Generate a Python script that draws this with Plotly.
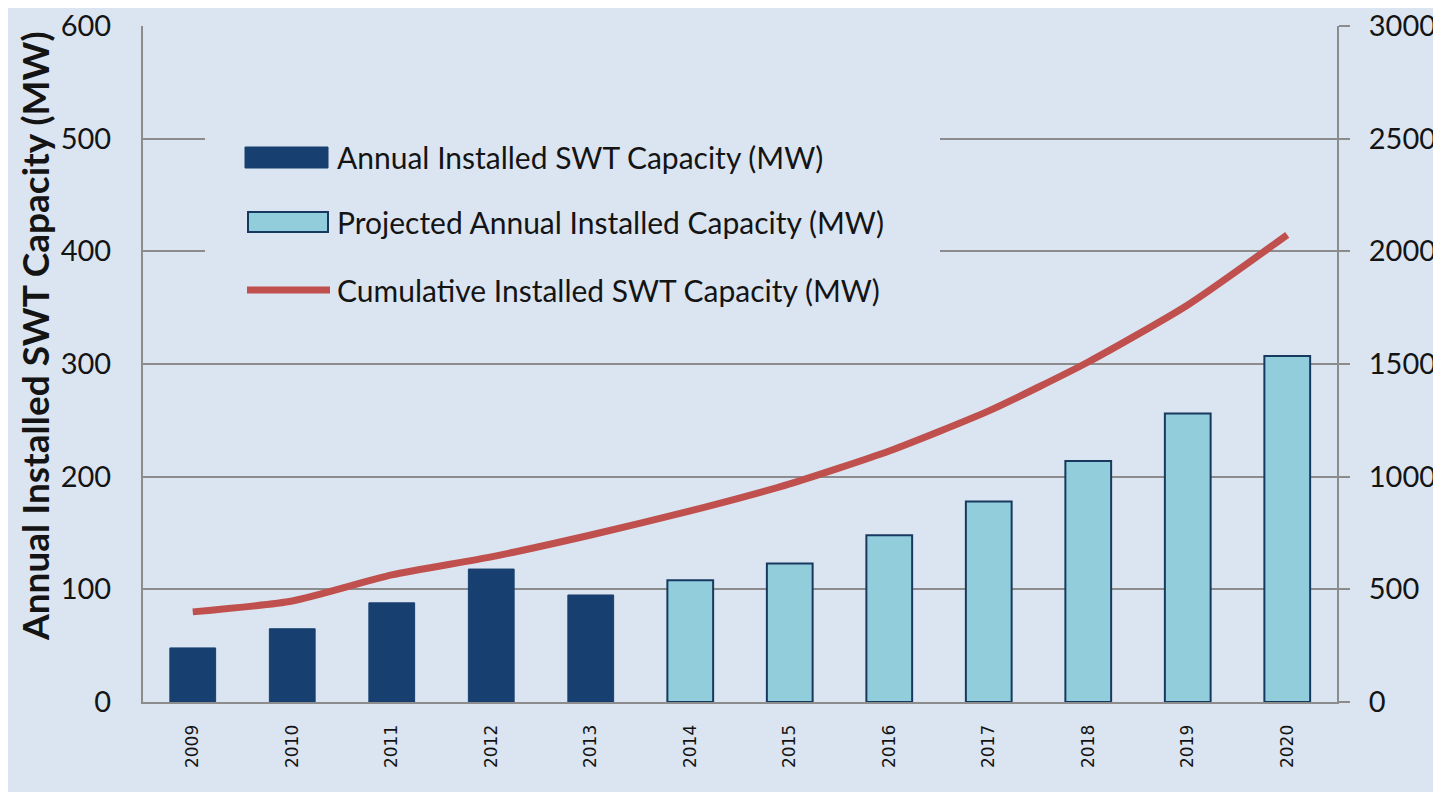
import plotly.graph_objects as go

# ---- data ----
years = ["2009", "2010", "2011", "2012", "2013", "2014", "2015", "2016", "2017", "2018", "2019", "2020"]
annual_years = years[:5]
annual_values = [48, 65, 88, 118, 95]
projected_years = years[5:]
projected_values = [108, 123, 148, 178, 214, 256, 307]
cumulative_values = [400, 448, 564, 644, 741, 848, 968, 1114, 1292, 1509, 1762, 2073]

legend_labels = [
    "Annual Installed SWT Capacity (MW)",
    "Projected Annual Installed Capacity (MW)",
    "Cumulative Installed SWT Capacity (MW)",
]
y_title = "Annual Installed SWT Capacity (MW)"

# ---- style ----
BG = "#dbe5f1"
DARK = "#173f6f"
LIGHT = "#92cddc"
EDGE = "#18395f"
RED = "#c0504d"
GRID = "#8c8c8c"
TXT = "#141414"

# page body has an 8px margin; work in reference pixel coords and shift
OFF = 8
W, H = 1441 - OFF, 792 - OFF
ML, MT = 143 - OFF, 26 - OFF
MR = W - (1337 - OFF)
MB = H - (702 - OFF)
PW, PH = W - ML - MR, H - MT - MB


def px(xp):
    return (xp - OFF - ML) / PW


def py(yp):
    return (H - MB - (yp - OFF)) / PH


fig = go.Figure()
fig.add_trace(go.Bar(x=annual_years, y=annual_values, name=legend_labels[0],
                     marker=dict(color=DARK, line=dict(color=DARK, width=1)),
                     width=0.46, showlegend=False))
fig.add_trace(go.Bar(x=projected_years, y=projected_values, name=legend_labels[1],
                     marker=dict(color=LIGHT, line=dict(color=EDGE, width=2)),
                     width=0.46, showlegend=False))
fig.add_trace(go.Scatter(x=years, y=cumulative_values, name=legend_labels[2],
                         mode="lines", line=dict(color=RED, width=7, shape="spline", smoothing=0.6),
                         yaxis="y2", showlegend=False))

# legend drawn as shapes + text (background panel hides gridlines like the original)
shapes = [
    dict(type="rect", xref="paper", yref="paper", x0=px(205), x1=px(940), y0=py(118), y1=py(318),
         fillcolor=BG, line=dict(width=0), layer="above"),
    dict(type="rect", xref="paper", yref="paper", x0=px(245), x1=px(328), y0=py(147), y1=py(168),
         fillcolor=DARK, line=dict(color=DARK, width=1), layer="above"),
    dict(type="rect", xref="paper", yref="paper", x0=px(248), x1=px(328), y0=py(212), y1=py(232),
         fillcolor=LIGHT, line=dict(color=EDGE, width=2), layer="above"),
    dict(type="line", xref="paper", yref="paper", x0=px(247), x1=px(330), y0=py(290), y1=py(290),
         line=dict(color=RED, width=7), layer="above"),
]
annotations = []
for lab, yc in zip(legend_labels, [157, 222, 290]):
    annotations.append(dict(text=lab, xref="paper", yref="paper", x=px(335), y=py(yc),
                            xanchor="left", yanchor="middle", showarrow=False,
                            font=dict(family="Lato", size=30, color=TXT)))
# y-axis title (placed like the original, slightly above the axis centre)
annotations.append(dict(text="<b>" + y_title + "</b>", xref="paper", yref="paper",
                        x=px(34), y=py(336), xanchor="center", yanchor="middle",
                        textangle=-90, showarrow=False,
                        font=dict(family="Lato", size=37, color=TXT)))

fig.update_layout(
    width=W, height=H,
    margin=dict(l=ML, r=MR, t=MT, b=MB, autoexpand=False),
    paper_bgcolor=BG, plot_bgcolor=BG,
    barmode="overlay",
    shapes=shapes, annotations=annotations,
    xaxis=dict(type="category", categoryorder="array", categoryarray=years, automargin=False,
               tickangle=-90, tickfont=dict(family="DejaVu Sans", size=17, color=TXT),
               showline=True, linecolor=GRID, linewidth=2, showgrid=False, ticks="", ticklabelstandoff=14),
    yaxis=dict(range=[0, 600], dtick=100, tickfont=dict(family="Lato", size=29, color=TXT),
               automargin=False,
               showline=True, linecolor=GRID, linewidth=2, gridcolor=GRID, gridwidth=2,
               zeroline=False, ticks="", ticklabelstandoff=24, ticklabeloverflow="allow"),
    yaxis2=dict(range=[0, 3000], dtick=500, overlaying="y", side="right", automargin=False,
                tickfont=dict(family="Lato", size=29, color=TXT),
                showline=True, linecolor=GRID, linewidth=2, showgrid=False, zeroline=False,
                ticks="outside", ticklen=11, tickcolor=GRID, tickwidth=2, ticklabelstandoff=13,
                ticklabeloverflow="allow"),
)

fig.write_html("out.html")
